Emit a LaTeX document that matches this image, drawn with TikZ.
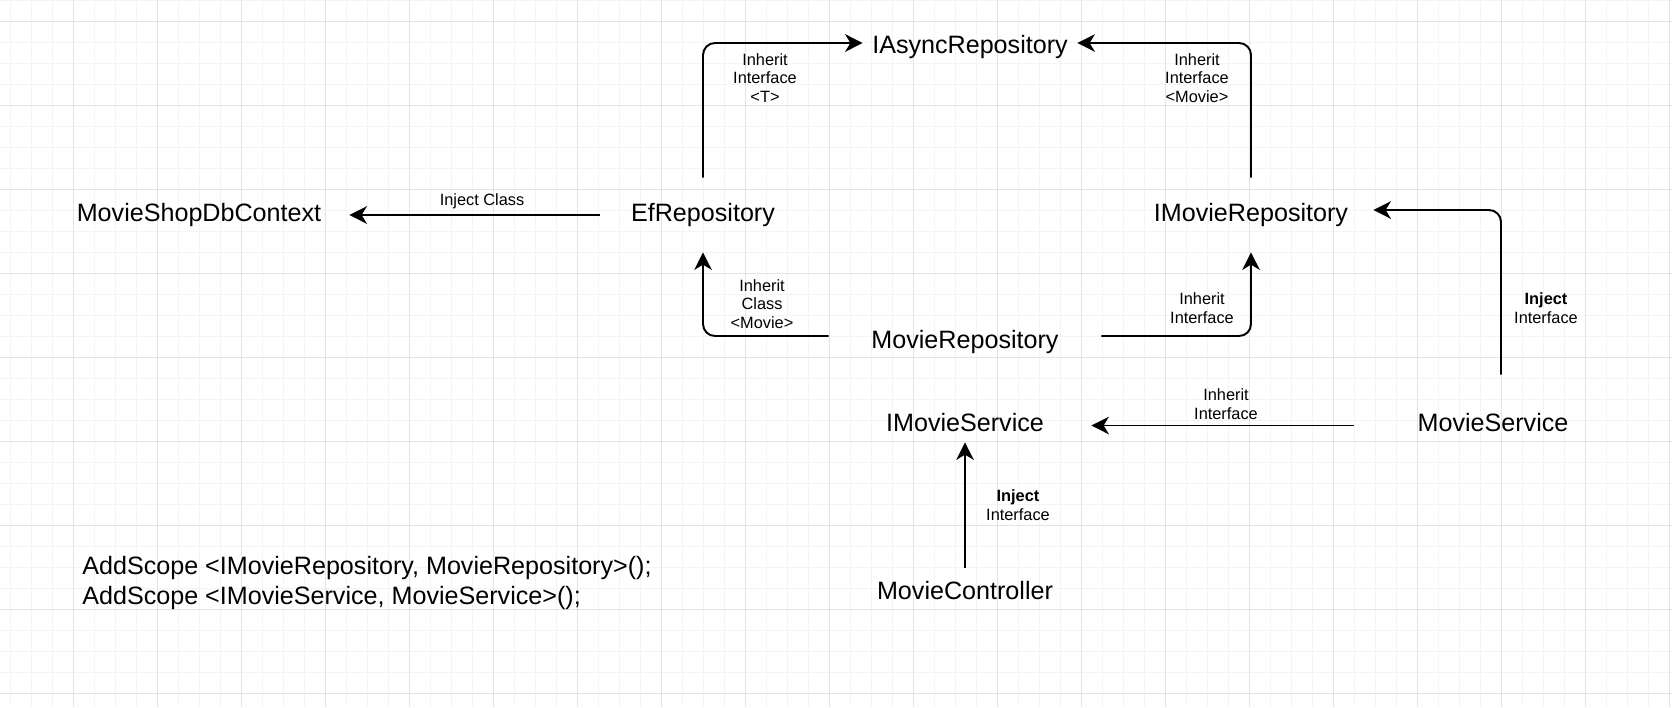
\documentclass[tikz,border=0pt]{standalone}
\usepackage{fontspec}
\setmainfont{Liberation Sans}
\usepackage{xcolor}
\usepackage{tikz}
\usetikzlibrary{arrows.meta}
\definecolor{gridmajor}{HTML}{E4E4E4}
\definecolor{gridminor}{HTML}{F4F4F4}

\begin{document}
\begin{tikzpicture}[x=0.02cm, y=-0.02cm,
	cls/.style={inner sep=0pt, font=\fontsize{14.3}{17}\selectfont},
	lbl/.style={inner sep=0pt, align=center, font=\fontsize{9.3}{10.5}\selectfont},
	arr/.style={-{Stealth[length=10pt,width=10pt,inset=3pt]}, line width=1.1pt, rounded corners=0.24cm},
	minorline/.style={draw=gridminor, line width=0.5pt},
	majorline/.style={draw=gridmajor, line width=0.5pt}]
  \useasboundingbox (0,0) rectangle (1672,707);
  \fill[white] (0,0) rectangle (1672,707);
  % grid
  \foreach \i in {0,...,79} \draw[minorline] (10+21*\i,0) -- (10+21*\i,707);
  \foreach \j in {0,...,33} \draw[minorline] (0,21*\j) -- (1672,21*\j);
  \foreach \i in {0,...,19} \draw[majorline] (73+84*\i,0) -- (73+84*\i,707);
  \foreach \j in {0,...,8} \draw[majorline] (0,21+84*\j) -- (1672,21+84*\j);

  \node[cls, minimum width=4.28cm, minimum height=0.8cm] (async) at (970,47) {IAsyncRepository};
  \node[cls, minimum width=6cm, minimum height=0.8cm] (ctx) at (199,215) {MovieShopDbContext};
  \node[cls, minimum width=4.12cm, minimum height=1.48cm] (ef) at (703,215) {EfRepository};
  \node[cls, minimum width=4.88cm, minimum height=1.48cm] (imrepo) at (1251,215) {IMovieRepository};
  \node[cls, minimum width=5.44cm, minimum height=0.8cm] (mrepo) at (965,342) {MovieRepository};
  \node[cls, minimum width=5.04cm, minimum height=0.76cm] (imsvc) at (965,423) {IMovieService};
  \node[cls, minimum width=5.56cm, minimum height=1.92cm] (msvc) at (1493,423) {MovieService};
  \node[cls, minimum width=4cm, minimum height=0.92cm] (mctrl) at (965,591) {MovieController};
  \node[cls, align=left, anchor=west, font=\fontsize{14.3}{16.6}\selectfont] (scopes) at (82,583)
    {AddScope <IMovieRepository, MovieRepository>();\\AddScope <IMovieService, MovieService>();};

  \draw[arr] (ef.west) -- (ctx.east);
  \draw[arr] (ef.north) |- ([yshift=0.08cm]async.west);
  \draw[arr] (imrepo.north) |- ([yshift=0.08cm]async.east);
  \draw[arr] ([yshift=0.12cm]mrepo.west) -| (ef.south);
  \draw[arr] ([yshift=0.12cm]mrepo.east) -| (imrepo.south);
  \draw[arr] ([xshift=0.16cm]msvc.north) |- ([yshift=0.1cm]imrepo.east);
  \draw[arr] ([yshift=-0.05cm]msvc.west) -- ([yshift=-0.05cm]imsvc.east);
  \draw[arr] (mctrl.north) -- (imsvc.south);

  \node[lbl] (l-ctx) at (482,201) {Inject Class};
  \node[lbl] (l-efasync) at (765,78) {Inherit\\Interface\\<T>};
  \node[lbl] (l-imasync) at (1197,78) {Inherit\\Interface\\<Movie>};
  \node[lbl] (l-mref) at (762,304) {Inherit\\Class\\<Movie>};
  \node[lbl] (l-mrim) at (1202,308) {Inherit\\Interface};
  \node[lbl] (l-msim) at (1546,308) {\textbf{Inject}\\Interface};
  \node[lbl] (l-msis) at (1226,404) {Inherit\\Interface};
  \node[lbl] (l-mcis) at (1018,505) {\textbf{Inject}\\Interface};

\end{tikzpicture}
\end{document}
